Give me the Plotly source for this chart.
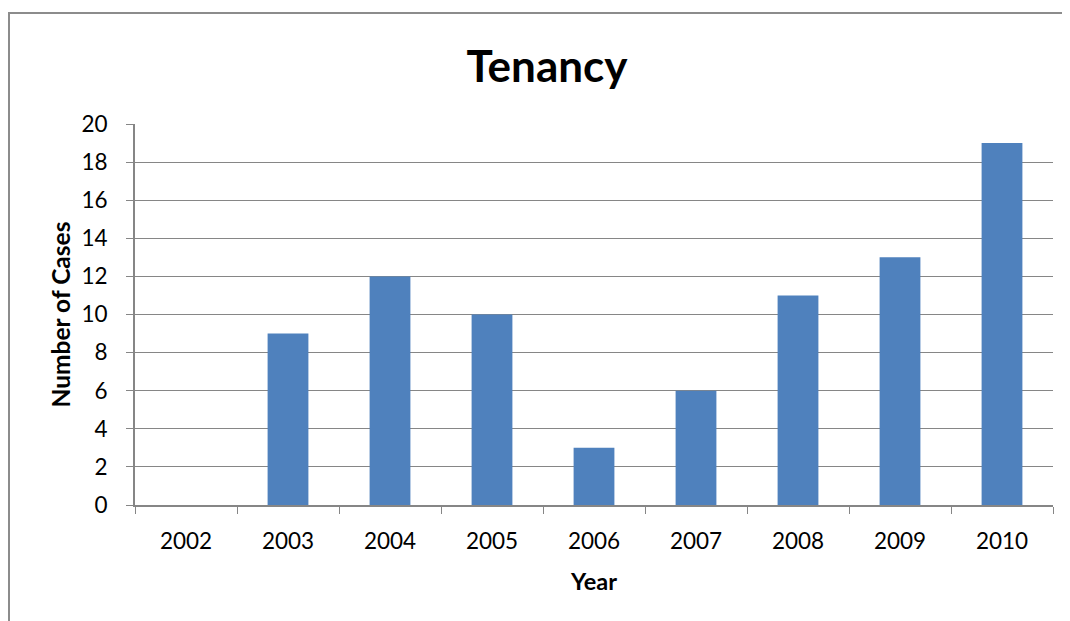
import plotly.graph_objects as go

years = ["2002", "2003", "2004", "2005", "2006", "2007", "2008", "2009", "2010"]
cases = [0, 9, 12, 10, 3, 6, 11, 13, 19]
title_text = "Tenancy"
x_title = "Year"
y_title = "Number of Cases"

OFF = 8  # page body margin
W, H = 1070 - OFF, 621 - OFF
L, R, T, B = 135 - OFF, 17, 124 - OFF, 116
pw, ph = W - L - R, H - T - B

fig = go.Figure(go.Bar(x=years, y=cases, marker_color="#4F81BD", marker_line_width=0))

fig.update_layout(
    width=W, height=H,
    margin=dict(l=L, r=R, t=T, b=B, pad=0),
    paper_bgcolor="white", plot_bgcolor="white",
    bargap=0.6,
    font=dict(family="Lato, Carlito, Calibri, sans-serif", color="black", size=22),
    title=dict(text="<b>" + title_text + "</b>", x=(547 - OFF) / W, xanchor="center",
               y=1 - (67 - OFF) / H, yanchor="middle", font=dict(size=44)),
    showlegend=False,
)
fig.update_xaxes(
    type="category", tickson="boundaries", ticks="outside", ticklen=7, tickcolor="#868686",
    showline=True, linecolor="#868686", linewidth=2, showgrid=False,
    tickfont=dict(size=22.5), ticklabelstandoff=15,
    title=dict(text="<b>" + x_title + "</b>", font=dict(size=23.5), standoff=21),
)
fig.update_yaxes(
    range=[0, 20], dtick=2, ticks="outside", ticklen=7, tickcolor="#868686",
    showline=True, linecolor="#868686", linewidth=2,
    showgrid=True, gridcolor="#868686", gridwidth=1, zeroline=False,
    tickfont=dict(size=22.5), ticklabelstandoff=14,
    title=dict(text="<b>" + y_title + "</b>", font=dict(size=24.5), standoff=4),
)
fig.add_shape(type="rect", xref="paper", yref="paper",
              x0=(9 - 135) / pw, x1=(1080 - 135) / pw,
              y0=(505 - 640) / ph, y1=(505 - 13) / ph,
              line=dict(color="#8C8C8C", width=2), fillcolor="rgba(0,0,0,0)", layer="below")

fig.write_html("out.html")
